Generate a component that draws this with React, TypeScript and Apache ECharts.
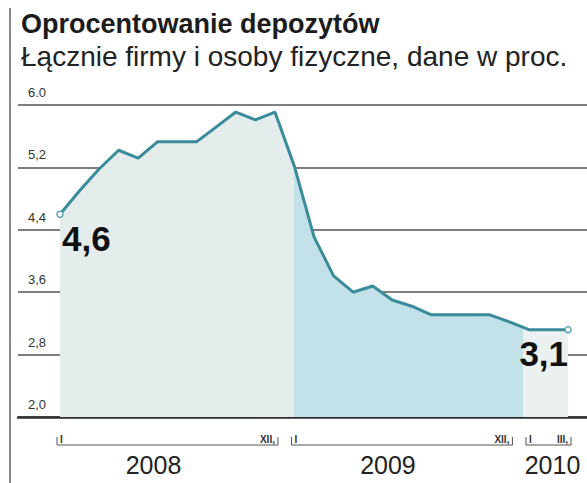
import React, { useEffect, useRef } from 'react';
import * as echarts from 'echarts';

// ---- data ----
const monthIndex = [0, 1, 2, 3, 4, 5, 6, 7, 8, 9, 10, 11, 12, 13, 14, 15, 16, 17, 18, 19, 20, 21, 22, 23, 24, 25, 26];
const rates = [4.6, 4.9, 5.18, 5.42, 5.32, 5.53, 5.53, 5.53, 5.72, 5.91, 5.81, 5.91, 5.21, 4.31, 3.81, 3.6, 3.68, 3.5, 3.42, 3.31, 3.31, 3.31, 3.31, 3.22, 3.12, 3.12, 3.12];
const yMin = 2.0;
const yMax = 6.0;
const yStep = 0.8;
const yearNames = ['2008', '2009', '2010'];
const yearFirstMonth = [0, 12, 24];
const yearLastMonth = [11, 23, 26];
const firstMonthLabels = ['I', 'I', 'I'];
const lastMonthLabels = ['XII,', 'XII,', 'III,'];
const titleText = 'Oprocentowanie depozytów';
const subtitleText = 'Łącznie firmy i osoby fizyczne, dane w proc.';

const FONT = '"Liberation Sans", Arial, sans-serif';
const fmt = (v: number) => v.toFixed(1).replace('.', ',');

export default function App() {
  const ref = useRef<HTMLDivElement>(null);
  useEffect(() => {
    if (!ref.current) return;
    const chart = echarts.init(ref.current, undefined, { renderer: 'svg' });
    const last = rates.length - 1;
    const lineData = monthIndex.map((m, i) => {
      const item: any = { value: [m, rates[i]] };
      if (i === 0 || i === last) {
        item.symbol = 'circle';
        item.symbolSize = 6;
        item.label = {
          show: true,
          position: 'bottom',
          align: i === 0 ? 'left' : 'right',
          offset: i === 0 ? [2, 0] : [0, 0],
          distance: 3,
          formatter: (p: any) => fmt(p.value[1]),
          fontFamily: FONT,
          fontSize: 35,
          fontWeight: 'bold',
          color: '#111',
        };
      } else {
        item.symbolSize = 0;
        item.symbol = 'none';
      }
      return item;
    });

    chart.setOption({
      animation: false,
      backgroundColor: '#fff',
      title: {
        text: titleText,
        subtext: subtitleText,
        left: 16,
        top: 5,
        itemGap: 5,
        textStyle: { fontFamily: FONT, fontSize: 27, fontWeight: 'bold', color: '#1c1c1c' },
        subtextStyle: { fontFamily: FONT, fontSize: 28, color: '#222' },
      },
      grid: { left: 18, right: 0, top: 105, bottom: 66 },
      xAxis: {
        type: 'value',
        min: -2.15,
        max: 26.97,
        axisLine: { show: true, onZero: false, lineStyle: { color: '#2e2e2e', width: 2.5 } },
        axisTick: { show: false },
        axisLabel: { show: false },
        splitLine: { show: false },
      },
      yAxis: {
        type: 'value',
        min: yMin,
        max: yMax,
        interval: yStep,
        axisLine: { show: false },
        axisTick: { show: false },
        splitLine: { show: true, lineStyle: { color: '#555', width: 1.5 } },
        axisLabel: {
          inside: true,
          align: 'left',
          margin: 10,
          verticalAlign: 'bottom',
          padding: [0, 0, 6, 0],
          fontFamily: FONT,
          fontSize: 13,
          color: '#333',
          formatter: (v: number) => (Math.abs(v - yMax) < 1e-6 ? v.toFixed(1) : fmt(v)),
        },
      },
      visualMap: {
        type: 'piecewise',
        show: false,
        dimension: 0,
        seriesIndex: 0,
        pieces: [
          { lt: 11.95, color: '#e4edeb' },
          { gte: 11.95, lt: 23.7, color: '#c3e1e8' },
          { gte: 23.7, color: '#eaf1f0' },
        ],
      },
      series: [
        {
          type: 'line',
          data: monthIndex.map((m, i) => [m, rates[i]]),
          symbol: 'none',
          lineStyle: { width: 0 },
          areaStyle: { opacity: 1, origin: 'start' },
          z: 1,
          silent: true,
        },
        {
          type: 'line',
          data: lineData,
          lineStyle: { color: '#3a8c9c', width: 3 },
          itemStyle: { color: '#fff', borderColor: '#5aa6b4', borderWidth: 1.5 },
          showAllSymbol: true,
          z: 3,
        },
      ],
    });

    // decorations derived from axis positions
    const px = (m: number) => chart.convertToPixel({ xAxisIndex: 0 }, m) as number;
    const yearShift = [-14, -14, 4];
    const bracketY = 445;
    const g: any[] = [
      { type: 'line', shape: { x1: 10, y1: 8, x2: 10, y2: 483 }, style: { stroke: '#8a8a8a', lineWidth: 2 } },
    ];
    yearNames.forEach((name, i) => {
      const x0 = px(yearFirstMonth[i]) - 3;
      const x1 = px(yearLastMonth[i]) + 3;
      g.push({ type: 'line', shape: { x1: x0, y1: bracketY, x2: x1, y2: bracketY }, style: { stroke: '#555', lineWidth: 1 } });
      g.push({ type: 'line', shape: { x1: x0, y1: bracketY - 8, x2: x0, y2: bracketY }, style: { stroke: '#555', lineWidth: 1 } });
      g.push({ type: 'line', shape: { x1: x1, y1: bracketY - 8, x2: x1, y2: bracketY }, style: { stroke: '#555', lineWidth: 1 } });
      g.push({
        type: 'text',
        x: x0 + 3,
        y: bracketY - 1,
        style: { text: firstMonthLabels[i], fontFamily: FONT, fontSize: 10, fontWeight: 'bold', fill: '#333', align: 'left', verticalAlign: 'bottom' },
      });
      g.push({
        type: 'text',
        x: x1 - 3,
        y: bracketY - 1,
        style: { text: lastMonthLabels[i], fontFamily: FONT, fontSize: 10, fontWeight: 'bold', fill: '#333', align: 'right', verticalAlign: 'bottom' },
      });
      g.push({
        type: 'text',
        x: (x0 + x1) / 2 + yearShift[i],
        y: 452,
        style: { text: name, fontFamily: FONT, fontSize: 25, fill: '#222', align: 'center', verticalAlign: 'top' },
      });
    });
    chart.setOption({ graphic: g });

    return () => chart.dispose();
  }, []);
  return <div ref={ref} style={{ position: 'fixed', left: 0, top: 0, width: 587, height: 483, background: '#fff' }} />;
}
